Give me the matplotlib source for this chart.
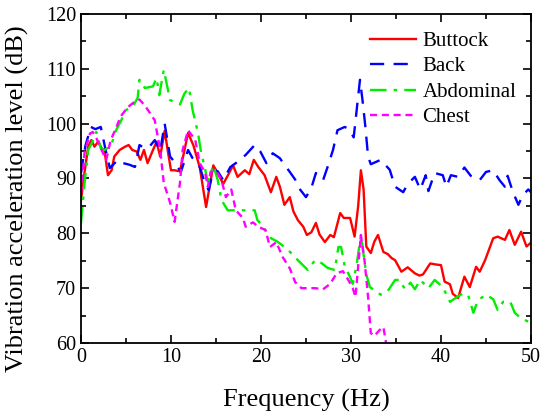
import matplotlib
matplotlib.use("Agg")
import matplotlib.pyplot as plt
from matplotlib.ticker import MultipleLocator

plt.rcParams['font.family'] = ['Liberation Serif', 'DejaVu Serif']

# Buttock
f_buttock = [0, 0.3, 0.8, 1.15, 1.5, 1.9, 2.3, 2.6, 3.0, 3.4, 3.7, 4.3, 4.9, 5.3, 5.7, 6.2, 6.6, 7.0, 7.4,
             8.0, 8.4, 8.8, 9.3, 9.7, 10.0, 10.4, 11.0, 11.9, 12.5, 13.2, 13.9, 14.7, 15.2, 15.8, 16.3,
             16.9, 17.4, 18.2, 18.7, 19.2, 19.7, 20.4, 21.1, 21.7, 22.1, 22.6, 23.2, 23.6, 24.1, 24.7,
             25.1, 25.6, 26.1, 26.5, 27.1, 27.7, 28.1, 28.8, 29.2, 29.9, 30.4, 30.8, 31.1, 31.4, 31.7,
             32.2, 32.6, 33.0, 33.6, 34.1, 34.5, 34.9, 35.6, 36.3, 37.1, 37.6, 38.0, 38.8, 39.5, 40.0,
             40.4, 41.0, 41.3, 41.9, 42.6, 43.2, 43.9, 44.3, 44.9, 45.8, 46.3, 47.1, 47.6, 48.2, 48.9,
             49.5, 50]
buttock = [86, 90, 95.8, 97, 95.8, 96.7, 95.5, 95.2, 90.6, 91.5, 94, 95.2, 95.8, 96.1, 95.2, 94.9, 93.4,
           95.2, 92.8, 95.2, 96.7, 94, 98.7, 94.5, 91.5, 91.5, 91.3, 98.3, 96, 92, 84.8, 92.4, 91, 89,
           90.5, 92.4, 90.3, 91.5, 90.8, 93.4, 92.1, 90.6, 87.5, 90.3, 88.5, 85.2, 86.6, 84, 82.4, 81.2,
           79.7, 80.2, 81.9, 79.8, 78.4, 79.7, 79.3, 83.7, 82.8, 82.8, 79.4, 85, 91.5, 88, 77.6,
           76.4, 78.5, 79.7, 76.6, 76.2, 75.5, 75.1, 73, 73.8, 72.7, 72.3, 72.5, 74.5, 74.3, 74.2,
           71.2, 70.7, 69, 68.2, 72.1, 70.2, 73.9, 73, 75.1, 79.1, 79.4, 78.8, 80.6, 77.9, 80.3,
           77.6, 78.3]

# Back
f_back = [0, 0.5, 1.1, 1.6, 2.2, 2.7, 3.2, 4.1, 4.7, 5.4, 6.0, 6.5, 7.1, 7.6, 8.2, 8.8, 9.3, 9.9, 10.4,
          11.1, 11.9, 12.4, 13.2, 13.8, 14.2, 14.7, 15.2, 15.8, 16.6, 17.2, 18.3, 19.3, 19.9, 20.6,
          21.3, 22.1, 22.6, 23.2, 23.8, 24.1, 25.0, 25.6, 26.1, 26.9, 27.4, 28.0, 28.5, 29.3, 29.8,
          30.3, 30.6, 31.0, 31.3, 31.6, 31.9, 32.2, 33.3, 34.3, 34.9, 35.8, 36.3, 37.1, 37.7, 38.3,
          38.6, 39.3, 40.2, 40.6, 41.1, 41.9, 42.6, 43.3, 44.3, 45.0, 45.8, 46.5, 47.1, 47.4, 48.0,
          48.6, 49.1, 49.7, 50]
back = [91, 96, 99.4, 99, 99.4, 95.5, 91.9, 93.4, 92.8, 92.5, 92.1, 96.1, 95.5, 95.8, 97, 95, 100, 94, 93,
        91.2, 95.2, 93.7, 92.1, 89, 87.9, 91.6, 91.3, 89.7, 92.1, 92.8, 94.3, 96.1, 95, 92.8,
        94.6, 93.7, 92.5, 91.2, 89.8, 88.5, 86.6, 88.3, 91, 89.7, 92.1, 95.2, 98.8, 99.4, 99,
        97.5, 102, 108, 104, 99.4, 94, 92.6, 93.4, 91.6, 88.5, 87.5, 89, 90.3, 88, 90.6,
        87.7, 91, 90.6, 88.5, 90.6, 90.3, 92, 90.5, 89.7, 91.2, 91.5, 89.7, 88.5, 90.5, 87.5,
        85.2, 87, 88, 87.5]

# Abdominal
f_abdominal = [0, 0.4, 0.8, 1.3, 1.7, 2.2, 2.6, 3.3, 3.9, 4.5, 5.0, 5.7, 6.3, 6.5, 7.1, 8.0, 8.4, 8.7,
               9.2, 9.9, 10.3, 11.0, 11.5, 12.0, 12.4, 13.0, 13.3, 13.8, 14.1, 14.7, 15.2, 15.6, 16.3,
               17.4, 18.6, 19.3, 19.6, 20.3, 20.8, 21.9, 23.0, 24.1, 25.2, 26.0, 26.7, 27.4, 28.2,
               28.6, 28.9, 29.3, 29.9, 30.2, 30.6, 31.1, 31.7, 32.1, 33.3, 34.1, 34.9, 35.4, 36.0,
               36.6, 37.1, 37.7, 38.6, 39.3, 40.2, 41.0, 41.7, 42.4, 43.0, 43.6, 44.1, 45.0, 45.8,
               46.3, 46.9, 47.7, 48.2, 48.9, 49.7, 50]
abdominal = [81.8, 89.2, 95.2, 96.8, 98.5, 95.5, 95.2, 95.8, 98.8, 100.7, 102.5, 103, 104.7, 108, 106.5,
             106.8, 108.3, 105.2, 109.8, 104.3, 104, 103.5, 105.5, 106.5, 102.5, 98.3, 95.2, 91.6,
             89.4, 92.4, 89.7, 86.1, 84.2, 84.2, 84.2, 84.2, 82.4, 81.2, 79.4, 78.4, 77, 75.1, 73.3,
             75.1, 74.6, 73.7, 73.3, 77.5, 77.5, 74, 72, 70.8, 74, 79.7, 72.5, 70.2, 68.8, 69.5,
             71.5, 71.5, 69.8, 71, 69.8, 71.5, 70, 71.5, 70.2, 67.5, 68.3, 69, 68.8, 65.5, 67.8,
             68.8, 68, 66, 67.5, 67.5, 65.5, 64.5, 63.9, 64.3]

# Chest
f_chest = [0, 0.4, 1.0, 1.3, 1.7, 2.2, 2.8, 3.3, 3.9, 4.4, 5.2, 5.8, 6.5, 7.1, 7.6, 8.2, 8.8, 9.2, 9.9,
           10.4, 11.0, 11.3, 11.9, 12.7, 13.2, 13.8, 14.1, 14.4, 15.0, 15.6, 16.1, 16.7, 17.2, 18.0,
           18.3, 19.1, 19.7, 20.5, 21.0, 21.7, 22.4, 23.2, 23.8, 24.5, 25.2, 26.0, 26.9, 27.7, 28.4,
           29.1, 29.7, 30.2, 30.5, 31.1, 31.5, 31.9, 32.2, 32.6, 33.2, 33.6, 33.9, 34.1]
chest = [87.3, 94.7, 98.2, 98.5, 97.4, 95.5, 93.4, 97, 99.2, 101.3, 103, 103.8, 104.4, 103.3, 102.1,
         100.6, 95.2, 89.2, 85.6, 82.1, 89.2, 95.2, 98.8, 97, 92.8, 91, 88.5, 91.2, 91.4, 89.8, 86.6,
         88, 84.2, 82.8, 81.2, 82, 81.2, 80.6, 77.5, 78.4, 75.7, 73.6, 71.1, 70, 70, 70, 69.8, 70.8,
         72.7, 73.1, 71.5, 70, 68.4, 79.7, 75.1, 68.4, 61.8, 61.3, 62.4, 62.9, 60, 59]

fig = plt.figure(figsize=(5.42, 4.15), dpi=100)
ax = fig.add_axes([0.1494, 0.1735, 0.8303, 0.7928])

ax.plot(f_buttock, buttock, color='#ff0000', lw=1.7, ls='-', label='Buttock')
ax.plot(f_back, back, color='#0000ff', lw=1.7, ls=(0, (6, 4)), label='Back')
ax.plot(f_abdominal, abdominal, color='#00ee00', lw=1.7, ls=(0, (7, 3, 1.5, 3)), label='Abdominal')
ax.plot(f_chest, chest, color='#ff00ff', lw=1.7, ls=(0, (3, 2)), label='Chest')

ax.set_xlim(0, 50)
ax.set_ylim(60, 120)
ax.xaxis.set_major_locator(MultipleLocator(10))
ax.xaxis.set_minor_locator(MultipleLocator(5))
ax.yaxis.set_major_locator(MultipleLocator(10))
ax.yaxis.set_minor_locator(MultipleLocator(5))
ax.tick_params(which='both', direction='in', top=True, right=True, labelsize=14.5, width=1.2)
ax.tick_params(which='major', length=6)
ax.tick_params(which='minor', length=3.5)
for s in ax.spines.values():
    s.set_linewidth(1.3)

ax.set_xlabel('Frequency (Hz)', fontsize=19)
ax.set_ylabel('Vibration acceleration level (dB)', fontsize=19)
ax.xaxis.set_label_coords(0.5, -0.14)
ax.yaxis.set_label_coords(-0.115, 0.44)

ax.legend(loc='upper right', frameon=False, fontsize=15, handlelength=2.2,
          labelspacing=0.28, handletextpad=0.3, borderaxespad=0.2,
          bbox_to_anchor=(0.995, 0.985))

fig.savefig('out.png', dpi=100)
